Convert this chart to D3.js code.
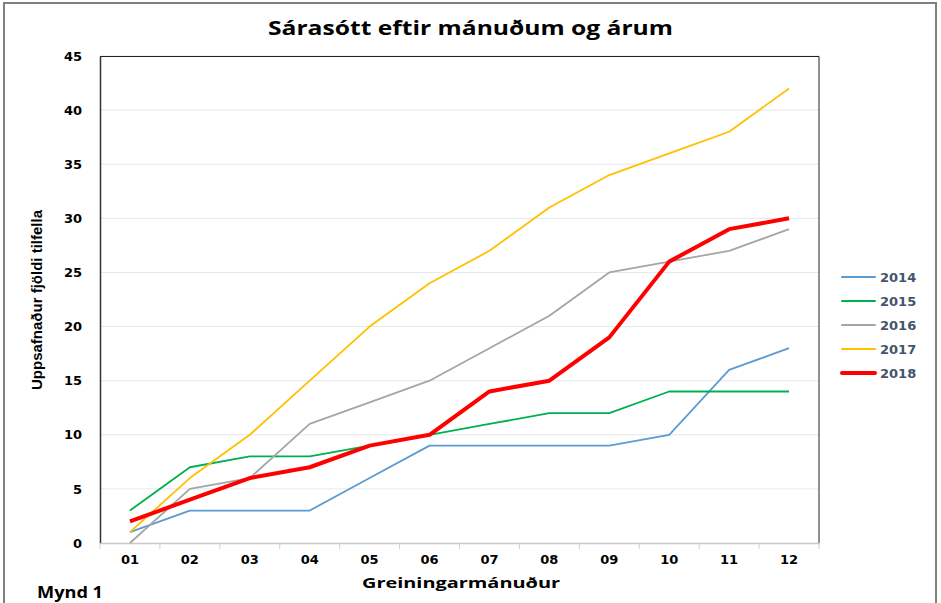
<!DOCTYPE html>
<meta charset="utf-8">
<script src="https://d3js.org/d3.v7.min.js"></script>
<style>
body { margin: 0; background: #fff; }
.tick text { font-family: "DejaVu Sans", sans-serif; font-weight: bold; font-size: 13px; fill: #000; }
</style>
<div id="chart"></div>
<script>
// data
var months = ["01","02","03","04","05","06","07","08","09","10","11","12"];
var years = ["2014","2015","2016","2017","2018"];
var v2014 = [1,3,3,3,6,9,9,9,9,10,16,18];
var v2015 = [3,7,8,8,9,10,11,12,12,14,14,14];
var v2016 = [0,5,6,11,13,15,18,21,25,26,27,29];
var v2017 = [1,6,10,15,20,24,27,31,34,36,38,42];
var v2018 = [2,4,6,7,9,10,14,15,19,26,29,30];
var yTicks = [0,5,10,15,20,25,30,35,40,45];
var colors = ["#5b9bd5","#00b050","#a5a5a5","#ffc000","#ff0000"];

var series = [v2014, v2015, v2016, v2017, v2018].map(function(v, i) {
  return { year: years[i], values: v, color: colors[i], width: years[i] == "2018" ? 4 : 1.8 };
});

var W = 941, H = 603;
var margin = {top: 56, right: 122, bottom: 60, left: 100},
    width = W - margin.left - margin.right,
    height = H - margin.top - margin.bottom;

var root = d3.select("#chart").append("svg")
  .attr("width", W).attr("height", H);

// outer frame
root.append("rect")
  .attr("x", 4).attr("y", 3).attr("width", 932).attr("height", 610)
  .attr("fill", "none").attr("stroke", "#808080").attr("stroke-width", 2);

var svg = root.append("g")
  .attr("transform", "translate(" + margin.left + "," + margin.top + ")");

var x = d3.scaleBand().domain(months).range([0, width]);
var y = d3.scaleLinear().domain([0, 45]).range([height, 0]);

// gridlines
svg.append("g")
  .selectAll("line")
  .data(yTicks.slice(1))
  .enter().append("line")
    .attr("x1", 0).attr("x2", width)
    .attr("y1", function(d) { return y(d); })
    .attr("y2", function(d) { return y(d); })
    .attr("stroke", "#e4e7ee").attr("stroke-width", 1);

// plot frame top/right
svg.append("path")
  .attr("d", "M0,0.5H" + width + "V" + height)
  .attr("fill", "none").attr("stroke", "#222").attr("stroke-width", 1);

// y axis
var yAxis = svg.append("g")
  .call(d3.axisLeft(y).tickValues(yTicks).tickSize(0).tickPadding(18));
yAxis.select(".domain").attr("stroke", "#333").attr("stroke-width", 1.5);

// x axis
var xAxis = svg.append("g")
  .attr("transform", "translate(0," + height + ")")
  .call(d3.axisBottom(x).tickSize(0).tickPadding(12));
xAxis.select(".domain").attr("stroke", "#c8c8c8").attr("stroke-width", 1.5);
xAxis.append("g")
  .selectAll("line")
  .data(months.concat(["end"]))
  .enter().append("line")
    .attr("x1", function(d, i) { return i * x.bandwidth(); })
    .attr("x2", function(d, i) { return i * x.bandwidth(); })
    .attr("y1", 0).attr("y2", 6)
    .attr("stroke", "#d0d0d0");

// lines
var line = d3.line()
  .x(function(d, i) { return x(months[i]) + x.bandwidth() / 2; })
  .y(function(d) { return y(d); });

svg.append("g")
  .selectAll("path")
  .data(series)
  .enter().append("path")
    .attr("d", function(d) { return line(d.values); })
    .attr("fill", "none")
    .attr("stroke", function(d) { return d.color; })
    .attr("stroke-width", function(d) { return d.width; })
    .attr("stroke-linejoin", "round");

// title
root.append("text")
  .attr("x", 268).attr("y", 35)
  .attr("textLength", 405).attr("lengthAdjust", "spacingAndGlyphs")
  .style("font-family", "'Open Sans', sans-serif")
  .style("font-weight", "bold").style("font-size", "20px")
  .text("Sárasótt eftir mánuðum og árum");

// axis titles
root.append("text")
  .attr("x", 362).attr("y", 588)
  .attr("textLength", 198).attr("lengthAdjust", "spacingAndGlyphs")
  .style("font-family", "'Open Sans', sans-serif")
  .style("font-weight", "bold").style("font-size", "15px")
  .text("Greiningarmánuður");

root.append("text")
  .attr("transform", "translate(42,300) rotate(-90)")
  .attr("text-anchor", "middle")
  .style("font-family", "'Liberation Sans', Arial, sans-serif")
  .style("font-weight", "bold").style("font-size", "15px")
  .text("Uppsafnaður fjöldi tilfella");

root.append("text")
  .attr("x", 37).attr("y", 598)
  .attr("textLength", 66).attr("lengthAdjust", "spacingAndGlyphs")
  .style("font-family", "'Open Sans', sans-serif")
  .style("font-weight", "bold").style("font-size", "16px")
  .text("Mynd 1");

// legend
var legend = root.append("g")
  .selectAll("g")
  .data(series)
  .enter().append("g")
    .attr("transform", function(d, i) { return "translate(842," + (277 + i * 24) + ")"; });
legend.append("line")
  .attr("x1", 0).attr("x2", 33)
  .attr("stroke", function(d) { return d.color; })
  .attr("stroke-width", function(d) { return d.year == "2018" ? 4 : 2; })
  .attr("stroke-linecap", "round");
legend.append("text")
  .attr("x", 38).attr("dy", "0.35em")
  .style("font-family", "'DejaVu Sans', sans-serif")
  .style("font-weight", "bold").style("font-size", "13px")
  .attr("fill", "#44546a")
  .text(function(d) { return d.year; });
</script>
